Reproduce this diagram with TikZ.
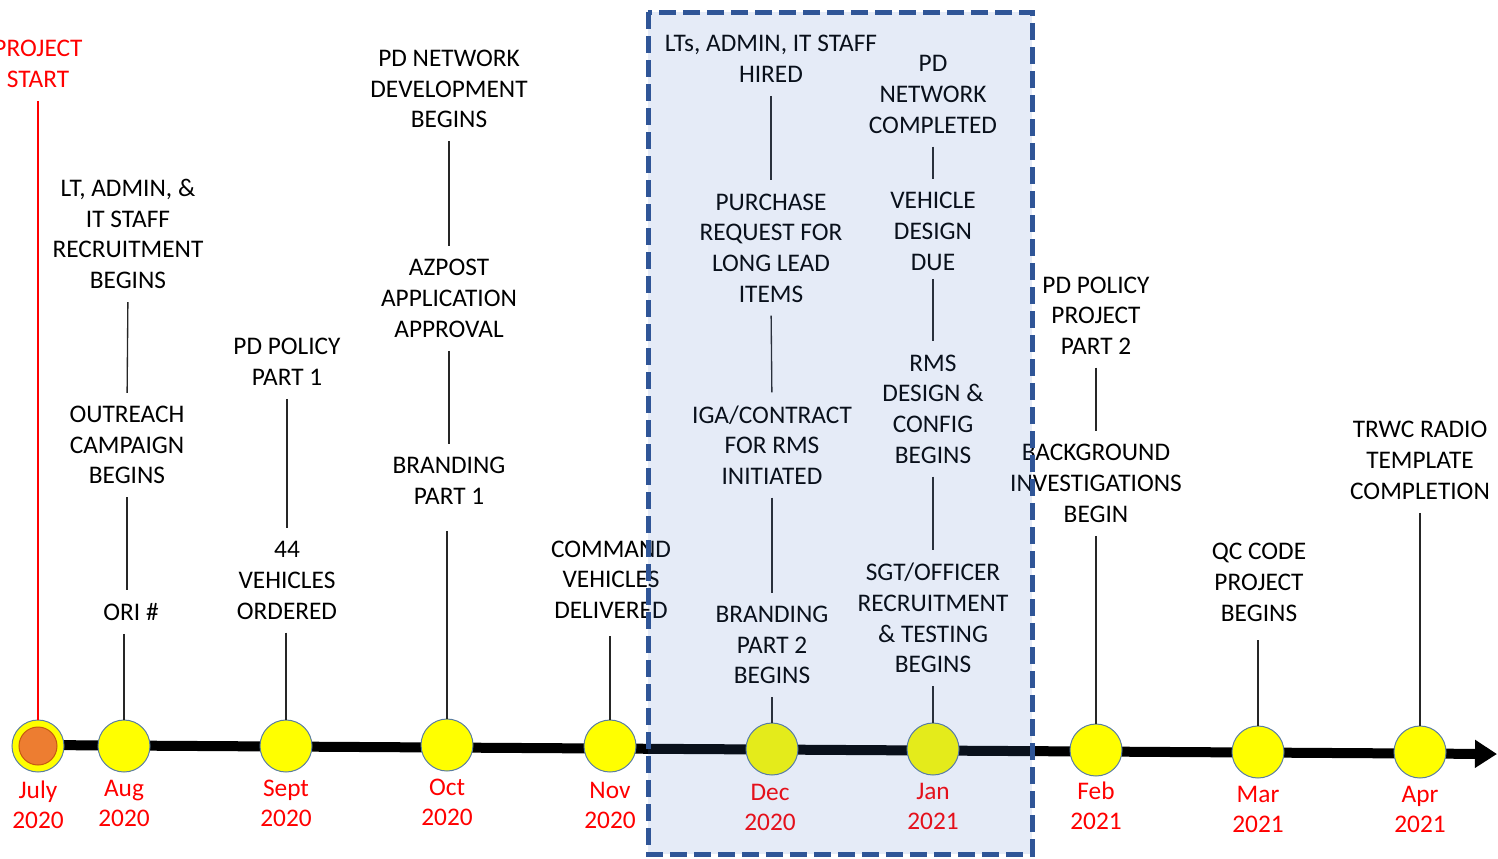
\documentclass[tikz,border=0pt]{standalone}
\usepackage{fontspec}
\setmainfont{Carlito}
\usetikzlibrary{arrows.meta}
\definecolor{circyel}{RGB}{255,255,0}
\definecolor{circedge}{RGB}{90,125,160}
\definecolor{julyor}{RGB}{237,125,49}
\definecolor{julyedge}{RGB}{197,90,17}
\definecolor{boxfill}{RGB}{68,114,196}
\definecolor{boxedge}{RGB}{47,85,151}
\definecolor{datered}{RGB}{255,0,0}
\begin{document}
\begin{tikzpicture}[x=0.75pt,y=-0.75pt,
  lbl/.style={font=\fontsize{19}{23}\selectfont, align=center, inner sep=0pt, text=black},
  datel/.style={font=\fontsize{19}{22.5}\selectfont, align=center, inner sep=0pt, text=datered},
  milestone/.style={circle, fill=circyel, draw=circedge, line width=0.75pt, minimum size=39pt, inner sep=0pt},
  conn/.style={draw=black!85, line width=1pt, shorten <=9.75pt, shorten >=9.75pt},
  tocirc/.style={draw=black!85, line width=1pt, shorten <=9.75pt},
  timebox/.style={draw=boxedge, line width=3.75pt, dash pattern=on 12.5pt off 5.5pt, fill=boxfill, fill opacity=0.14, draw opacity=1}
]
\useasboundingbox (0,0) rectangle (1498,858);

% milestone circles
\coordinate (tlstart) at (38,745);
\coordinate (tlend) at (1497,754);
\draw[line width=7.5pt, -{Triangle[length=16.5pt,width=20pt]}] (tlstart) -- (tlend);

\node[milestone] (jul) at (38,746) {};
\node[circle, fill=julyor, draw=julyedge, line width=0.75pt, minimum size=28.5pt, inner sep=0pt] (julin) at (38,746) {};
\node[milestone] (aug) at (124,746) {};
\node[milestone] (sep) at (286,746) {};
\node[milestone] (oct) at (447,745) {};
\node[milestone] (nov) at (610,746) {};
\node[milestone] (dec) at (772,749) {};
\node[milestone] (jan) at (933,749) {};
\node[milestone] (feb) at (1096,750) {};
\node[milestone] (mar) at (1258,752) {};
\node[milestone] (apr) at (1420,752) {};

% date labels
\node[datel] (djul) at (38,805) {July\\2020};
\node[datel] (daug) at (124,803.5) {Aug\\2020};
\node[datel] (dsep) at (286,803.5) {Sept\\2020};
\node[datel] (doct) at (447,802) {Oct\\2020};
\node[datel] (dnov) at (610,805) {Nov\\2020};
\node[datel] (ddec) at (770,807) {Dec\\2020};
\node[datel] (djan) at (933,806) {Jan\\2021};
\node[datel] (dfeb) at (1096,806) {Feb\\2021};
\node[datel] (dmar) at (1258,809) {Mar\\2021};
\node[datel] (dapr) at (1420,809) {Apr\\2021};

% project start
\node[lbl, text=datered] (start) at (38,64) {PROJECT\\START};
\draw[datered, line width=1.5pt, shorten <=9.75pt] (start.south) -- (jul.north);

% Aug column
\node[lbl] (a1) at (128,234) {LT, ADMIN, \&\\IT STAFF\\RECRUITMENT\\BEGINS};
\node[lbl] (a2) at (127,445) {OUTREACH\\CAMPAIGN\\BEGINS};
\node[lbl] (a3) at (131,612) {ORI \#};
\draw[conn] (a1.south) -- (a2.north);
\draw[conn] (a2.south) -- (a2.south |- a3.north);
\draw[tocirc] (a3.south -| aug.north) -- (aug.north);

% Sept column
\node[lbl] (s1) at (287,362) {PD POLICY\\PART 1};
\node[lbl] (s2) at (287,580.5) {44\\VEHICLES\\ORDERED};
\draw[conn] (s1.south) -- (s2.north);
\draw[tocirc] (s2.south -| sep.north) -- (sep.north);

% Oct column
\node[lbl] (o1) at (449,89) {PD NETWORK\\DEVELOPMENT\\BEGINS};
\node[lbl] (o2) at (449,298.5) {AZPOST\\APPLICATION\\APPROVAL};
\node[lbl] (o3) at (449,480.5) {BRANDING\\PART 1};
\draw[conn] (o1.south) -- (o2.north);
\draw[conn] (o2.south) -- (o3.north);
\draw[tocirc, shorten <=20pt] (o3.south -| oct.north) -- (oct.north);

% Nov column
\node[lbl] (n1) at (611,579.5) {COMMAND\\VEHICLES\\DELIVERED};
\draw[tocirc, shorten <=13pt] (n1.south -| nov.north) -- (nov.north);

% Dec column
\node[lbl] (d1) at (771,59) {LTs, ADMIN, IT STAFF\\HIRED};
\node[lbl] (d2) at (771,248) {PURCHASE\\REQUEST FOR\\LONG LEAD\\ITEMS};
\node[lbl] (d3) at (772,445) {IGA/CONTRACT\\FOR RMS\\INITIATED};
\node[lbl] (d4) at (772,645) {BRANDING\\PART 2\\BEGINS};
\draw[conn] (d1.south) -- (d2.north);
\draw[conn] (d2.south) -- (d3.north);
\draw[conn] (d3.south) -- (d4.north);
\draw[tocirc] (d4.south -| dec.north) -- (dec.north);

% Jan column
\node[lbl] (j1) at (933,94.5) {PD\\NETWORK\\COMPLETED};
\node[lbl] (j2) at (933,231.5) {VEHICLE\\DESIGN\\DUE};
\node[lbl] (j3) at (933,409) {RMS\\DESIGN \&\\CONFIG\\BEGINS};
\node[lbl] (j4) at (933,618) {SGT/OFFICER\\RECRUITMENT\\\& TESTING\\BEGINS};
\draw[conn] (j1.south) -- (j2.north);
\draw[conn, shorten <=6pt] (j2.south) -- (j3.north);
\draw[conn] (j3.south) -- (j4.north);
\draw[tocirc] (j4.south -| jan.north) -- (jan.north);

% Feb column
\node[lbl] (f1) at (1096,315.5) {PD POLICY\\PROJECT\\PART 2};
\node[lbl] (f2) at (1096,483.5) {BACKGROUND\\INVESTIGATIONS\\BEGIN};
\draw[conn] (f1.south) -- (f2.north);
\draw[tocirc] (f2.south -| feb.north) -- (feb.north);

% Mar column
\node[lbl] (m1) at (1259,582.5) {QC CODE\\PROJECT\\BEGINS};
\draw[tocirc, shorten <=14pt] (m1.south -| mar.north) -- (mar.north);

% Apr column
\node[lbl] (p1) at (1420,460.5) {TRWC RADIO\\TEMPLATE\\COMPLETION};
\draw[tocirc] (p1.south -| apr.north) -- (apr.north);

% highlighted period
\draw[timebox] (648,12) rectangle (1032,854);
\end{tikzpicture}
\end{document}
